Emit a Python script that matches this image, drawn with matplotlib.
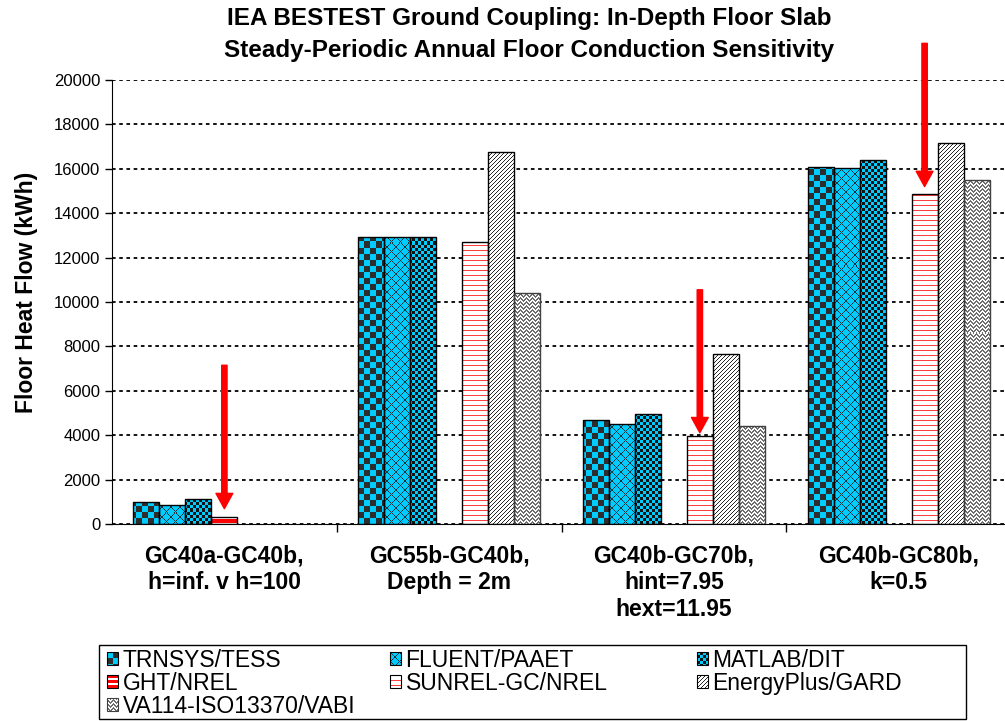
import numpy as np
import matplotlib
matplotlib.use('Agg')
import matplotlib.pyplot as plt
from matplotlib.patches import Rectangle
from matplotlib.legend_handler import HandlerBase
from matplotlib.image import BboxImage
from matplotlib.transforms import Bbox, TransformedBbox

plt.rcParams['font.family'] = ['Liberation Sans', 'DejaVu Sans']

# ---- data (kWh), NaN = no result for that program ----
categories = ['GC40a-GC40b,\nh=inf. v h=100',
              'GC55b-GC40b,\nDepth = 2m',
              'GC40b-GC70b,\nhint=7.95\nhext=11.95',
              'GC40b-GC80b,\nk=0.5']
series_names = ['TRNSYS/TESS', 'FLUENT/PAAET', 'MATLAB/DIT', 'GHT/NREL',
                'SUNREL-GC/NREL', 'EnergyPlus/GARD', 'VA114-ISO13370/VABI']
nan = np.nan
trnsys     = [980,  12950, 4700, 16100]
fluent     = [860,  12950, 4500, 16050]
matlab     = [1130, 12950, 4950, 16400]
ght        = [320,  nan,   nan,  nan]
sunrel     = [nan,  12700, 3950, 14850]
energyplus = [nan,  16750, 7650, 17150]
va114      = [nan,  10400, 4400, 15500]
series_vals = [trnsys, fluent, matlab, ght, sunrel, energyplus, va114]

# red arrows: (category, series index, tail value, tip value)
arrow_cat    = [0, 2, 3]
arrow_series = [3, 4, 4]
arrow_tail   = [7150, 10550, 21650]
arrow_tip    = [690, 4110, 15200]

# ---- fill patterns (pixel tiles) ----
cyan = np.array([0, 204, 255]) / 255
dark = np.array([45, 45, 45]) / 255
white = np.array([1.0, 1.0, 1.0])
red = np.array([1.0, 0.0, 0.0])


def tile_checker(n, c1, c2):
    i, j = np.mgrid[0:2 * n, 0:2 * n]
    m = ((i // n + j // n) % 2).astype(bool)
    t = np.empty((2 * n, 2 * n, 3))
    t[m] = c1
    t[~m] = c2
    return t


def tile_mask(m, fg, bg):
    t = np.empty(m.shape + (3,))
    t[m] = fg
    t[~m] = bg
    return t


def tile_hlines(period, thick, fg, bg):
    i, j = np.mgrid[0:period, 0:4]
    return tile_mask(i < thick, fg, bg)


def tile_diag(period, thick, fg, bg):
    i, j = np.mgrid[0:period, 0:period]
    return tile_mask((i + j) % period < thick, fg, bg)


def tile_cross(period, fg, bg):
    i, j = np.mgrid[0:period, 0:period]
    return tile_mask(((i + j) % period == 0) | ((i - j) % period == 0), fg, bg)


def tile_zigzag(fg, bg):
    i, j = np.mgrid[0:4, 0:6]
    phase = np.abs((j % 6) - 3) // 1
    return tile_mask((i + phase) % 4 < 2, fg, bg)


tiles = [
    tile_checker(6, dark, cyan),
    tile_cross(9, np.array([30, 50, 60]) / 255, cyan),
    tile_checker(3, np.array([20, 20, 20]) / 255, cyan),
    tile_hlines(5, 3, red, white),
    tile_hlines(5, 1, np.array([1.0, 0.25, 0.25]), white),
    tile_diag(4, 1, np.array([40, 40, 40]) / 255, white),
    tile_zigzag(np.array([110, 110, 110]) / 255, white),
]
edges = ['black'] * 6 + ['#404040']


def tiled(tile, h, w):
    th, tw = tile.shape[:2]
    return np.tile(tile, (h // th + 1, w // tw + 1, 1))[:h, :w]


fig = plt.figure(figsize=(10.05, 7.21), dpi=100)
ax = fig.add_axes([112 / 1005, (721 - 524) / 721, 899 / 1005, 444 / 721])
xlim = (-0.5, 3.5)
ylim = (0, 20000)

bar_w = 26 / 225
x = np.arange(len(categories))
bb = ax.get_window_extent()
W, H = int(np.ceil(bb.width)), int(np.ceil(bb.height))

for k, vals in enumerate(series_vals):
    vals = np.array(vals, dtype=float)
    ok = ~np.isnan(vals)
    xs = x[ok] + (k - 3) * bar_w
    bars = ax.bar(xs, vals[ok], bar_w, color='none', edgecolor=edges[k],
                  linewidth=1.0, zorder=3)
    img = tiled(tiles[k], H, W)
    for b in bars:
        im = ax.imshow(img, extent=(xlim[0], xlim[1], ylim[0], ylim[1]),
                       origin='upper', aspect='auto', interpolation='nearest',
                       zorder=2)
        im.set_clip_path(b)

ax.set_xlim(*xlim)
ax.set_ylim(*ylim)

# arrows
for c, s, tail, tip in zip(arrow_cat, arrow_series, arrow_tail, arrow_tip):
    ax_x = x[c] + (s - 3) * bar_w
    ax.annotate('', xy=(ax_x, tip), xytext=(ax_x, tail),
                arrowprops=dict(arrowstyle='simple,head_length=1.0,head_width=1.1,tail_width=0.35',
                                color='red', shrinkA=0, shrinkB=0, mutation_scale=11),
                annotation_clip=False, zorder=5)

# axes styling
ax.set_yticks(np.arange(0, 20001, 2000))
ax.tick_params(axis='y', labelsize=12, length=5, width=1, direction='out')
ax.set_xticks(x)
ax.set_xticklabels(categories, fontsize=16.5, fontweight='bold', linespacing=1.2)
ax.set_xticks([0.5, 1.5, 2.5], minor=True)
ax.tick_params(axis='x', which='major', length=0, pad=15)
ax.tick_params(axis='x', which='minor', length=6, width=1, direction='out')
ax.spines['top'].set_visible(False)
ax.spines['right'].set_visible(False)
ax.yaxis.grid(True, color='black', linestyle=(0, (2, 2)), linewidth=1.3)
ax.set_axisbelow(True)

fig.text(529 / 1005, 1 - 18 / 721, 'IEA BESTEST Ground Coupling: In-Depth Floor Slab',
         ha='center', va='center', fontsize=17.5, fontweight='bold')
fig.text(529 / 1005, 1 - 50 / 721, 'Steady-Periodic Annual Floor Conduction Sensitivity',
         ha='center', va='center', fontsize=17.5, fontweight='bold')
fig.text(27 / 1005, 1 - 292 / 721, 'Floor Heat Flow (kWh)', rotation=90,
         ha='center', va='center', fontsize=16.5, fontweight='bold')


# ---- legend with pattern swatches ----
class PatternKey:
    def __init__(self, tile, edge):
        self.tile = tile
        self.edge = edge


class PatternHandler(HandlerBase):
    def create_artists(self, legend, orig_handle, xdescent, ydescent,
                       width, height, fontsize, trans):
        box = TransformedBbox(Bbox.from_bounds(-xdescent, -ydescent, width, height), trans)
        im = BboxImage(box, interpolation='nearest')
        ph = max(int(round(height * fig.dpi / 72)), 1)
        pw = max(int(round(width * fig.dpi / 72)), 1)
        im.set_data(tiled(orig_handle.tile, ph, pw))
        frame = Rectangle((-xdescent, -ydescent), width, height, facecolor='none',
                          edgecolor=orig_handle.edge, linewidth=0.8, transform=trans)
        return [im, frame]


keys = [PatternKey(t, e) for t, e in zip(tiles, edges)]
columns = [[0, 3, 6], [1, 4], [2, 5]]
col_x = [107, 390, 697]
for col, cx in zip(columns, col_x):
    fig.legend([keys[i] for i in col], [series_names[i] for i in col],
               handler_map={PatternKey: PatternHandler()},
               loc='upper left', bbox_to_anchor=(cx / 1005, 1 - 649 / 721),
               frameon=False, borderpad=0, borderaxespad=0,
               handlelength=0.48, handleheight=0.48, handletextpad=0.2,
               labelspacing=0.0, fontsize=16.5)

fig.add_artist(Rectangle((99 / 1005, 2 / 721), 867 / 1005, (719 - 645) / 721,
                         transform=fig.transFigure, fill=False,
                         edgecolor='black', linewidth=1.0))

fig.savefig('out.png', dpi=100)
